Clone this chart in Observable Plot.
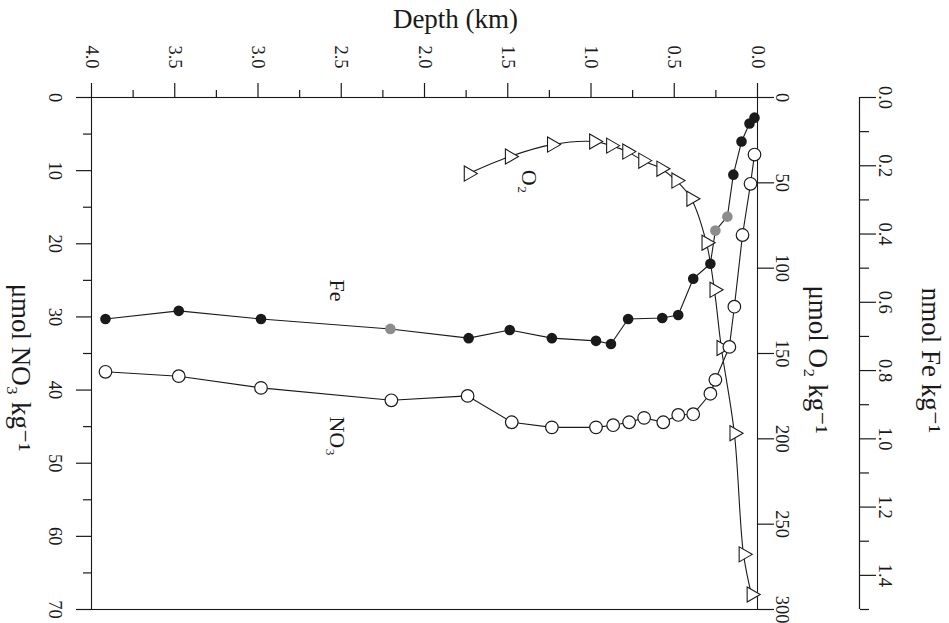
<!DOCTYPE html>
<html><head><meta charset="utf-8">
<script src="https://cdn.jsdelivr.net/npm/d3@7"></script>
<script src="https://cdn.jsdelivr.net/npm/@observablehq/plot@0.6"></script>
<style>body{margin:0;background:#fff} #chart svg{display:block}</style>
</head><body><div id="chart"></div>
<script>
// Tick values
const depthTicks = [0, 0.5, 1.0, 1.5, 2.0, 2.5, 3.0, 3.5, 4.0];
const depthMinor = [0.25, 0.75, 1.25, 1.75, 2.25, 2.75, 3.25, 3.75];
const no3Ticks = [0, 10, 20, 30, 40, 50, 60, 70];
const no3Minor = [5, 15, 25, 35, 45, 55, 65];
const o2Ticks = [0, 50, 100, 150, 200, 250, 300];
const feTicks = [0, 0.2, 0.4, 0.6, 0.8, 1.0, 1.2, 1.4];
const feMinor = [0.1, 0.3, 0.5, 0.7, 0.9, 1.1, 1.3, 1.5];

// Fe profile (depth km, nmol Fe/kg)
const feDepth = [0.018, 0.048, 0.096, 0.145, 0.181, 0.253, 0.283, 0.386, 0.476, 0.572, 0.777, 0.880, 0.970, 1.235, 1.488, 1.735, 2.205, 2.982, 3.476, 3.916];
const feConc  = [0.059, 0.076, 0.129, 0.226, 0.349, 0.390, 0.487, 0.531, 0.637, 0.646, 0.649, 0.722, 0.713, 0.705, 0.681, 0.705, 0.678, 0.649, 0.625, 0.649];
const feGray  = [4, 5, 16];

// NO3 profile (depth km, umol/kg)
const no3Depth = [0.018, 0.042, 0.090, 0.139, 0.169, 0.253, 0.283, 0.386, 0.476, 0.566, 0.681, 0.771, 0.867, 0.970, 1.235, 1.476, 1.741, 2.199, 2.982, 3.476, 3.916];
const no3Conc  = [7.8, 11.8, 18.8, 28.6, 34.1, 38.6, 40.5, 43.3, 43.4, 44.4, 43.8, 44.4, 44.8, 45.1, 45.1, 44.4, 40.8, 41.4, 39.7, 38.1, 37.5];

// O2 profile (depth km, umol/kg)
const o2Depth = [1.735, 1.488, 1.235, 0.982, 0.880, 0.783, 0.687, 0.578, 0.488, 0.398, 0.307, 0.259, 0.217, 0.139, 0.084, 0.036];
const o2Conc  = [44.6, 34.6, 27.6, 25.8, 28.2, 31.7, 37.0, 41.7, 48.7, 59.3, 85.1, 112.7, 146.8, 196.7, 267.7, 291.2];

// Series labels (depth km, position on NO3 axis units)
const labelText  = ["O\u2082", "Fe", "NO\u2083"];
const labelDepth = [1.373, 2.524, 2.524];
const labelPos   = [11.5, 26.4, 46.3];

const O2_TO_Y = 70 / 300, FE_TO_Y = 70 / 1.5;

const fe = feDepth.map((d, i) => ({depth: d, y: feConc[i] * FE_TO_Y, gray: feGray.includes(i)}));
const no3 = no3Depth.map((d, i) => ({depth: d, y: no3Conc[i]}));
const o2 = o2Depth.map((d, i) => ({depth: d, y: o2Conc[i] * O2_TO_Y}));
const labels = labelText.map((t, i) => ({t, depth: labelDepth[i], y: labelPos[i]}));

const ink = "#1a1a1a";
const FE_DX = 102;

const chart = Plot.plot({
  width: 949, height: 623,
  marginLeft: 91, marginRight: 192, marginTop: 97, marginBottom: 14,
  style: {fontFamily: "'Liberation Serif', 'DejaVu Serif', serif", fontSize: "18.5px", color: ink, background: "#fff"},
  x: {domain: [0, 4], reverse: true},
  y: {domain: [0, 70], reverse: true},
  marks: [
    Plot.frame({stroke: ink, strokeWidth: 1.1}),
    // top depth axis
    Plot.axisX({anchor: "top", ticks: depthTicks, tickSize: 15, tickPadding: 14, tickRotate: 90,
      textAnchor: "end", lineAnchor: "middle", tickFormat: d3.format(".1f"), label: null, stroke: ink, strokeWidth: 1.2}),
    Plot.axisX({anchor: "top", ticks: depthMinor, tickSize: 8, tickFormat: () => "", label: null, stroke: ink, strokeWidth: 1.2}),
    // left NO3 axis
    Plot.axisY({anchor: "left", ticks: no3Ticks, tickSize: 15, tickPadding: 14, tickRotate: 90,
      textAnchor: "middle", lineAnchor: "top", label: null, stroke: ink, strokeWidth: 1.2}),
    Plot.axisY({anchor: "left", ticks: no3Minor, tickSize: 8, tickFormat: () => "", label: null, stroke: ink, strokeWidth: 1.2}),
    // right O2 axis
    Plot.axisY({anchor: "right", ticks: o2Ticks.map(v => v * O2_TO_Y), tickSize: 16, tickPadding: 2, tickRotate: 90,
      textAnchor: "middle", lineAnchor: "bottom", tickFormat: v => String(Math.round(v / O2_TO_Y)), label: null, stroke: ink, strokeWidth: 1.2}),
    // far right Fe axis
    Plot.ruleX([0], {y1: 0, y2: 70, dx: FE_DX, stroke: ink, strokeWidth: 1.2}),
    Plot.axisY({anchor: "right", dx: FE_DX, ticks: feTicks.map(v => v * FE_TO_Y), tickSize: 16, tickPadding: 3, tickRotate: 90,
      textAnchor: "middle", lineAnchor: "bottom", tickFormat: v => (v / FE_TO_Y).toFixed(1), label: null, stroke: ink, strokeWidth: 1.2}),
    Plot.axisY({anchor: "right", dx: FE_DX, ticks: feMinor.map(v => v * FE_TO_Y), tickSize: 9, tickFormat: () => "", label: null, stroke: ink, strokeWidth: 1.2}),
    // axis titles
    Plot.text(["Depth (km)"], {frameAnchor: "top", textAnchor: "middle", lineAnchor: "middle", dx: 31, dy: -78, fontSize: 27, fill: ink}),
    Plot.text(["\u03bcmol NO\u2083 kg\u207b\u00b9"], {frameAnchor: "left", textAnchor: "middle", lineAnchor: "middle", dx: -71, dy: 14, rotate: 90, fontSize: 27, fill: ink}),
    Plot.text(["\u03bcmol O\u2082 kg\u207b\u00b9"], {frameAnchor: "right", textAnchor: "middle", lineAnchor: "middle", dx: 60, dy: 6, rotate: 90, fontSize: 27, fill: ink}),
    Plot.text(["nmol Fe kg\u207b\u00b9"], {frameAnchor: "right", textAnchor: "middle", lineAnchor: "middle", dx: 173, dy: 7, rotate: 90, fontSize: 27, fill: ink}),
    // series
    Plot.line(o2, {x: "depth", y: "y", curve: "catmull-rom", stroke: ink, strokeWidth: 1.1}),
    Plot.line(no3, {x: "depth", y: "y", stroke: ink, strokeWidth: 1.1}),
    Plot.line(fe, {x: "depth", y: "y", stroke: ink, strokeWidth: 1.1}),
    Plot.dot(o2, {x: "depth", y: "y", symbol: "triangle", rotate: 90, r: 5.6, fill: "white", stroke: ink, strokeWidth: 1.1}),
    Plot.dot(no3, {x: "depth", y: "y", r: 6.3, fill: "white", stroke: ink, strokeWidth: 1.2}),
    Plot.dot(fe, {x: "depth", y: "y", r: 5.3, fill: d => d.gray ? "#8c8c8c" : ink, stroke: null}),
    // series labels
    Plot.text(labels, {x: "depth", y: "y", text: "t", rotate: 90, fontSize: 22, fill: ink})
  ]
});
document.getElementById("chart").appendChild(chart);
</script>
</body></html>
